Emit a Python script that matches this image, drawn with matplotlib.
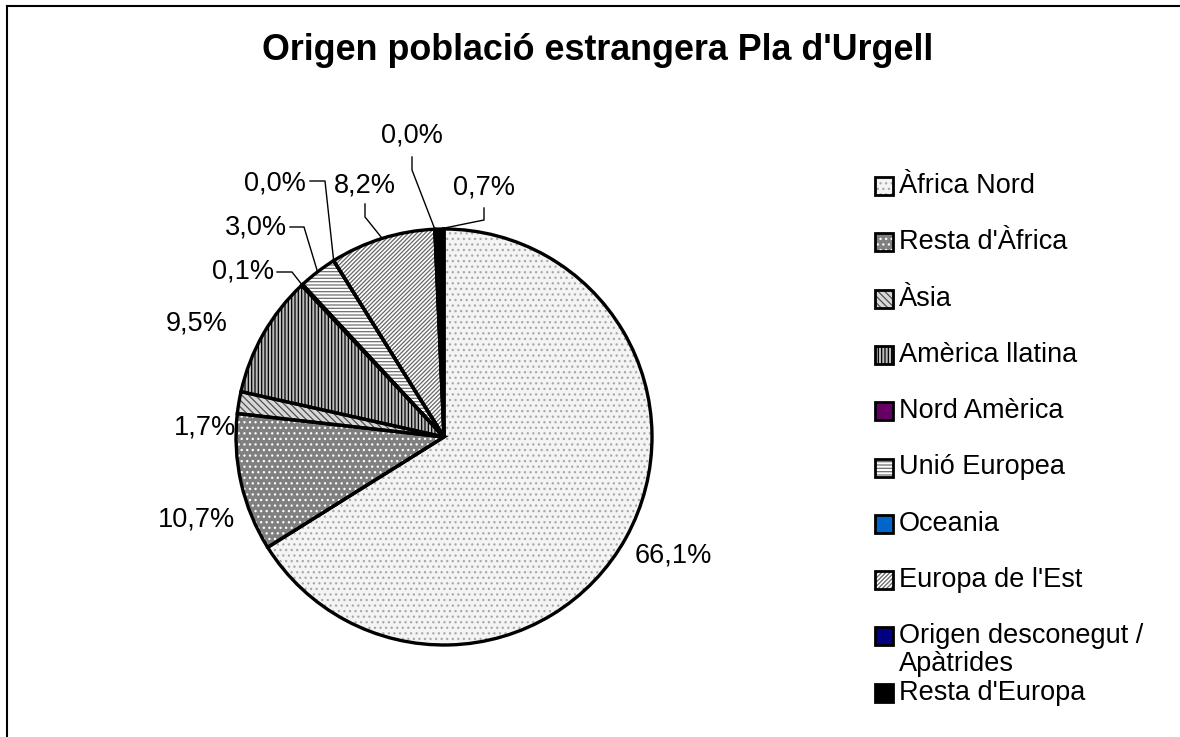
import matplotlib
matplotlib.use('Agg')
import matplotlib.pyplot as plt
from matplotlib.patches import Rectangle
from matplotlib.lines import Line2D
import math

plt.rcParams['font.family'] = ['Liberation Sans', 'DejaVu Sans']
plt.rcParams['hatch.linewidth'] = 0.9

# ---------------- data ----------------
title = "Origen població estrangera Pla d'Urgell"
categories = ["Àfrica Nord", "Resta d'Àfrica", "Àsia", "Amèrica llatina",
              "Nord Amèrica", "Unió Europea", "Oceania", "Europa de l'Est",
              "Origen desconegut /\nApàtrides", "Resta d'Europa"]
shares = [66.1, 10.7, 1.7, 9.5, 0.1, 3.0, 0.0, 8.2, 0.0, 0.7]

# ---------------- styles ----------------
face_colors = ['#f4f4f4', '#808080', '#d8d8d8', '#bcbcbc', '#660066',
               '#ffffff', '#0066cc', '#ffffff', '#000080', '#000000']
hatch_colors = ['#a8a8a8', '#ffffff', '#505050', '#000000', '#660066',
                '#707070', '#0066cc', '#666666', '#000080', '#000000']
hatches = ['...', '...', '\\\\\\\\\\', '|||||', None,
           '-----', None, '////////', None, None]

W, H = 1180, 737
CX, CY, R = 444, 437, 208  # pie centre / radius in pixels


def px(x, y):
    return ((x - CX) / R, (CY - y) / R)


# label layout (pixel positions, alignment) and leader elbows
label_layout = [
    ((673, 556), 'center', None),
    ((197, 520), 'center', None),
    ((205, 427), 'center', None),
    ((197, 323), 'center', None),
    ((274, 271), 'right', [(277, 272), (292, 272)]),
    ((287, 228), 'right', [(290, 227), (304, 227)]),
    ((306, 183), 'right', [(310, 181), (325, 181)]),
    ((365, 185), 'center', [(365, 204), (365, 217)]),
    ((412, 136), 'center', [(412, 157), (412, 170)]),
    ((484, 187), 'center', [(484, 208), (484, 220)]),
]

fig = plt.figure(figsize=(W / 100, H / 100), dpi=100)
ax = fig.add_axes([0, 0, 1, 1])

w1, _ = ax.pie(shares, startangle=90, counterclock=False, colors=face_colors,
               wedgeprops=dict(linewidth=0))
for w, h, hc in zip(w1, hatches, hatch_colors):
    w.set_edgecolor(hc)
    if h:
        w.set_hatch(h)
w2, _ = ax.pie(shares, startangle=90, counterclock=False,
               wedgeprops=dict(linewidth=2.4, edgecolor='black'))
for w in w2:
    w.set_facecolor('none')

ax.set_xlim(-CX / R, (W - CX) / R)
ax.set_ylim(-(H - CY) / R, CY / R)
ax.set_aspect('auto')
ax.axis('off')

fs = 19.5
for w, v, (pos, ha, elbow) in zip(w1, shares, label_layout):
    txt = f"{v:.1f}".replace('.', ',') + '%'
    x, y = px(*pos)
    ax.text(x, y, txt, ha=ha, va='center', fontsize=fs, color='black')
    if elbow:
        mid = math.radians((w.theta1 + w.theta2) / 2)
        pts = [px(*p) for p in elbow] + [(math.cos(mid), math.sin(mid))]
        ax.plot([p[0] for p in pts], [p[1] for p in pts], color='black', lw=1.0)

# legend
for i, (name, fc, hc, h) in enumerate(zip(categories, face_colors, hatch_colors, hatches)):
    yc = 186 + 56.3 * i
    fig.patches.append(Rectangle((875 / W, 1 - (yc + 9) / H), 18 / W, 18 / H,
                                 transform=fig.transFigure, facecolor=fc,
                                 edgecolor=hc, hatch=h, lw=0))
    fig.patches.append(Rectangle((875 / W, 1 - (yc + 9) / H), 18 / W, 18 / H,
                                 transform=fig.transFigure, facecolor='none',
                                 edgecolor='black', lw=2))
    fig.text(899 / W, 1 - (yc - 13) / H, name, ha='left', va='top', fontsize=fs,
             linespacing=1.08)

fig.text(598 / W, 1 - 50 / H, title, ha='center', va='center', fontsize=25.8,
         fontweight='bold')

# frame (left and top edges visible)
fig.lines.append(Line2D([7 / W, 7 / W], [0, 1 - 6 / H], transform=fig.transFigure,
                        color='black', lw=1.5))
fig.lines.append(Line2D([7 / W, 1], [1 - 6 / H, 1 - 6 / H], transform=fig.transFigure,
                        color='black', lw=1.5))

fig.savefig('out.png', dpi=100)
